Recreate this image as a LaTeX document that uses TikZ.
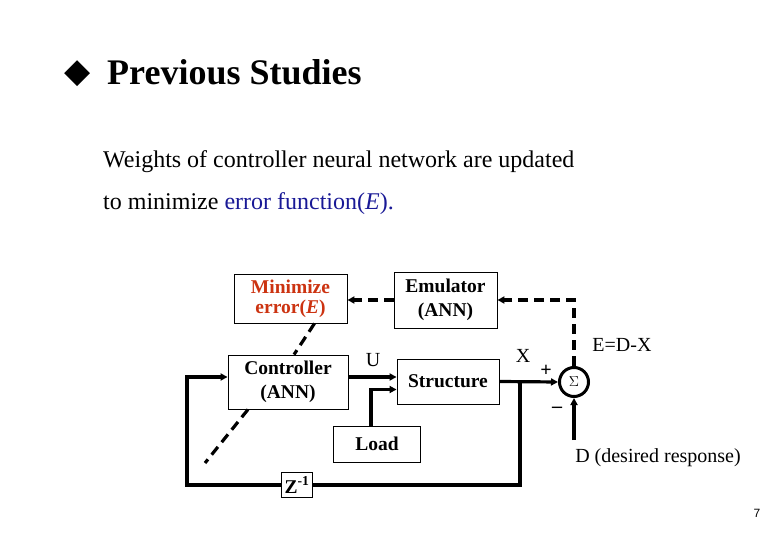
\documentclass[tikz,border=0pt]{standalone}
\usepackage{fontspec}
\setmainfont{Liberation Serif}
\setsansfont{Liberation Sans}
\newfontfamily\symfont{DejaVu Sans}
\usetikzlibrary{arrows.meta,calc}

\definecolor{errred}{RGB}{204,51,17}
\definecolor{errblue}{RGB}{25,25,150}

\tikzset{
  blk/.style={draw,line width=.9pt,align=center,font=\fontsize{19.5}{24}\selectfont\bfseries,inner sep=0pt},
  sig/.style={line width=3.2pt},
  fb/.style={line width=3.2pt,dash pattern=on 10pt off 6pt},
  tip/.style={-{Triangle[length=7pt,width=7pt]}},
  lbl/.style={font=\fontsize{20}{22}\selectfont,inner sep=0pt}
}

\begin{document}
\begin{tikzpicture}[x=1pt,y=-1pt]
\useasboundingbox (0,0) rectangle (780,540);

% heading and text
\node[anchor=center] (bul) at (78,74) {\fontsize{34}{36}\symfont ◆};
\node[anchor=base west,inner sep=0pt] (ttl) at (107,85) {\fontsize{36}{40}\selectfont\bfseries Previous Studies};
\node[anchor=base west,inner sep=0pt] (ln1) at (103,168) {\fontsize{24}{26}\selectfont Weights of controller neural network are updated};
\node[anchor=base west,inner sep=0pt] (ln2) at (103,210) {\fontsize{24}{26}\selectfont to minimize \textcolor{errblue}{error function(\textit{E}).}};

% blocks
\node[blk,minimum width=113pt,minimum height=49pt,text=errred,font=\fontsize{19.5}{20}\selectfont\bfseries] (minim) at (290.5,298.5) {Minimize\\error(\textit{E})};
\node[blk,minimum width=103pt,minimum height=56pt] (emul) at (445.5,300) {Emulator\\(ANN)};
\node[blk,minimum width=120pt,minimum height=54pt] (ctrl) at (288,382) {Controller\\(ANN)};
\node[blk,minimum width=102pt,minimum height=45pt] (struc) at (448,381.5) {Structure};
\node[blk,minimum width=30pt,minimum height=36pt] (load) at (377,444) {\hspace{22pt}Load\hspace{22pt}};
\node[blk,minimum width=30pt,minimum height=25pt] (zinv) at (297,485) {\,Z\textsuperscript{-1}\,};
\node[draw,circle,line width=3pt,minimum size=29pt,inner sep=0pt,font=\fontsize{15}{16}\selectfont] (sum) at (574,382) {$\Sigma$};

\coordinate (lft) at (187,377);
\coordinate (jn) at (520,382);
\coordinate (dsrc) at (574,440);
\coordinate (wend) at (205,463);

% signal lines
\draw[sig,tip] ([yshift=5pt]ctrl.east) -- ([yshift=5pt]ctrl.east -| struc.west);
\draw[sig,tip] ([xshift=-6pt]load.north) |- ([yshift=-8pt]struc.west);
\draw[sig,tip] (struc.east) -- (sum.west);
\draw[sig] (jn) |- (zinv.east);
\draw[sig,tip] (zinv.west) -| (lft) -- (lft -| ctrl.west);
\draw[sig,tip] (dsrc) -- (sum.south);

% error / learning paths
\draw[fb,tip] (sum.north) |- (emul.east);
\draw[fb,tip] (emul.west) -- (minim.east |- emul.west);
\draw[fb] ([xshift=24pt]minim.south) -- ([xshift=6pt]ctrl.north);
\draw[fb] ([xshift=-40pt]ctrl.south) -- (wend);

% labels
\node[lbl] (ulbl) at (373,360) {U};
\node[lbl] (xlbl) at (523,356) {X};
\node[lbl,font=\fontsize{20}{22}\selectfont\bfseries] (plus) at (546,371) {+};
\node[lbl,font=\fontsize{20}{22}\selectfont\bfseries] (minus) at (557,410) {\textendash};
\node[lbl] (elbl) at (622,345) {E=D-X};
\node[lbl] (dlbl) at (658,458) {D (desired response)};
\node[inner sep=0pt,font=\fontsize{12}{14}\selectfont\sffamily] (pgno) at (757,513) {7};
\end{tikzpicture}
\end{document}
